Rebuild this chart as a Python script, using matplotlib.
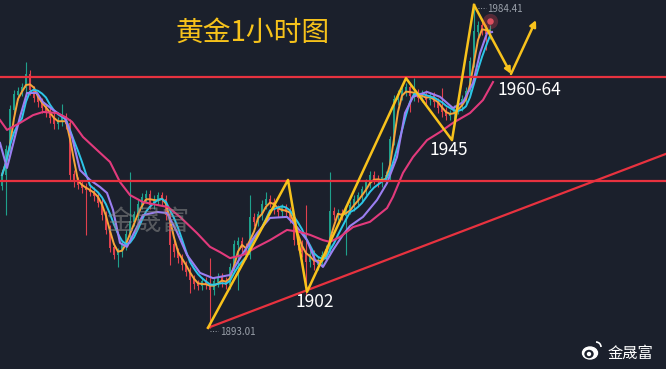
import numpy as np
import pandas as pd
import matplotlib
matplotlib.use("Agg")
import matplotlib.pyplot as plt
from matplotlib.patches import Ellipse, Arc

plt.rcParams['font.family'] = ['Noto Sans CJK SC', 'DejaVu Sans']

# hourly closes of gold
closes = [1936.4, 1943.5, 1954.9, 1959.1, 1960.0, 1961.1, 1964.8, 1960.5, 1958.3, 1957.1,
          1955.4, 1954.3, 1952.6, 1950.9, 1951.5, 1952.6, 1950.9, 1936.4, 1934.4, 1933.6,
          1932.7, 1932.1, 1931.6, 1930.4, 1928.5, 1925.0, 1920.8, 1915.7, 1913.7, 1914.5,
          1916.5, 1919.4, 1923.1, 1925.0, 1927.9, 1929.9, 1930.7, 1927.9, 1929.3, 1930.4,
          1929.3, 1925.0, 1916.5, 1914.5, 1912.8, 1910.8, 1908.9, 1906.6, 1905.4, 1904.9,
          1906.0, 1905.2, 1903.7, 1906.0, 1907.2, 1906.0, 1905.2, 1910.0, 1916.5, 1917.4,
          1915.7, 1913.7, 1924.2, 1923.1, 1925.0, 1927.9, 1929.3, 1928.5, 1926.5, 1925.9,
          1927.0, 1925.9, 1924.2, 1917.9, 1916.5, 1914.5, 1911.7, 1913.7, 1910.8, 1911.7,
          1913.4, 1915.1, 1925.9, 1925.0, 1925.3, 1924.8, 1926.5, 1927.6, 1929.3, 1930.4,
          1932.1, 1934.1, 1936.1, 1935.0, 1934.4, 1935.5, 1936.1, 1946.3, 1957.7, 1959.1,
          1960.0, 1961.1, 1958.8, 1959.4, 1958.3, 1959.1, 1957.7, 1958.8, 1957.1, 1955.4,
          1954.3, 1953.2, 1953.7, 1954.9, 1956.0, 1957.7, 1960.0, 1968.5, 1977.0, 1978.7,
          1977.6, 1976.4, 1977.6]

# long wicks (candle index, price)
spike_high_idx = [6, 15, 32, 52, 62, 66, 76, 82, 95, 103, 110, 118]
spike_high_val = [1968.5, 1956.6, 1937.3, 1912.8, 1930.7, 1931.5, 1927.9, 1937.3, 1940.1, 1963.9, 1961.1, 1984.41]
spike_low_idx = [1, 21, 29, 42, 47, 52, 59, 76, 86, 102, 121]
spike_low_val = [1925.0, 1919.4, 1910.3, 1910.8, 1902.9, 1893.01, 1903.7, 1902.3, 1913.7, 1954.3, 1971.9]

# slower moving averages
purple_t = [-0.5, 1.25, 4.5, 6.25, 8.75, 10.25, 12.75, 15.75, 17.5, 19.5, 22, 24.5, 26.25, 27.75,
            29.5, 31.25, 32.75, 35.25, 38.75, 41.25, 43.75, 46.25, 49.5, 52.75, 57, 60.25, 63.75,
            67, 71.25, 73.75, 76.25, 78.25, 80.25, 82.75, 85.25, 87, 90.25, 93.75, 96.25, 98.75,
            100.75, 102.75, 106.25, 109.5, 112.75, 115.25, 117.75, 119.5, 121.25, 122.5]
purple_v = [1945.5, 1938.4, 1952.9, 1959.7, 1959.7, 1957.1, 1954.9, 1952.6, 1947.2, 1937.8, 1935.0,
            1933.0, 1931.3, 1926.5, 1917.1, 1916.0, 1919.4, 1925.0, 1925.9, 1925.6, 1920.2, 1913.7,
            1908.6, 1907.1, 1908.0, 1914.2, 1919.9, 1924.2, 1924.5, 1921.6, 1917.9, 1912.3, 1910.3,
            1915.1, 1919.4, 1921.9, 1924.5, 1929.3, 1934.1, 1941.5, 1954.0, 1958.6, 1960.0, 1958.6,
            1955.4, 1957.1, 1962.5, 1971.0, 1976.7, 1977.0]
pink_t = [-0.5, 1.25, 4.5, 7.75, 10.25, 13.75, 15.75, 17.5, 20.25, 23.75, 27, 29.5, 32, 35.25,
          38.75, 41.5, 44.5, 48.75, 52, 54.5, 57, 60.25, 63.75, 67, 71.25, 74.5, 77, 80.25, 82,
          84.5, 87.75, 92, 96.25, 97.75, 100.25, 102.75, 106.25, 109.5, 112.75, 117, 120.25, 122.75]
pink_v = [1952.0, 1949.2, 1951.2, 1953.4, 1954.3, 1954.0, 1952.9, 1951.5, 1947.2, 1943.5, 1940.1,
          1934.4, 1930.7, 1928.7, 1927.9, 1927.3, 1924.5, 1919.9, 1916.0, 1914.5, 1912.8, 1913.7,
          1916.0, 1917.9, 1920.8, 1920.2, 1919.4, 1917.9, 1917.4, 1918.8, 1921.6, 1923.1, 1927.0,
          1930.2, 1937.0, 1941.5, 1946.3, 1948.6, 1951.2, 1954.0, 1957.7, 1962.8]

# drawn analysis
zig_t = [51.5, 71.5, 76.25, 101, 112.5, 118, 127.25, 133.5]
zig_v = [1893.0, 1935.0, 1903.2, 1963.9, 1946.3, 1984.7, 1965.1, 1980.4]
levels = [1964.2, 1934.7]
trend_t = [51.5, 166]
trend_v = [1893.0, 1942.4]

bg = '#1b202c'
up_c, dn_c = '#1fa08c', '#e0404e'
yel = '#f8c21c'

fig = plt.figure(figsize=(6.66, 3.69), dpi=100, facecolor=bg)
ax = fig.add_axes([0, 0, 1, 1])
ax.set_facecolor(bg)

df = pd.DataFrame({'close': closes})
df['open'] = df['close'].shift(1).fillna(df['close'].iloc[0] - 3)
df['high'] = df[['open', 'close']].max(axis=1) + 1.3
df['low'] = df[['open', 'close']].min(axis=1) - 1.3
for i, v in zip(spike_high_idx, spike_high_val):
    df.loc[i, 'high'] = v
for i, v in zip(spike_low_idx, spike_low_val):
    df.loc[i, 'low'] = v
t = np.arange(len(df))

for i, r in df.iterrows():
    c = up_c if r['close'] >= r['open'] else dn_c
    ax.vlines(i, r['low'], r['high'], color=c, lw=0.8, zorder=2)
    ax.bar(i, abs(r['close'] - r['open']) + 0.3, bottom=min(r['open'], r['close']),
           width=0.7, color=c, zorder=2)

ax.plot(t, df['close'].rolling(3, min_periods=1).mean(), color='#f7a43a', lw=1.4, zorder=3)
ax.plot(t, df['close'].rolling(6, min_periods=1).mean(), color='#2cc6e8', lw=1.4, zorder=3)
ax.plot(purple_t, purple_v, color='#9b7ff2', lw=1.5, zorder=3)
ax.plot(pink_t, pink_v, color='#e23a7c', lw=1.5, zorder=3)

for lv in levels:
    ax.axhline(lv, color='#e8323f', lw=1.6, zorder=4)
ax.plot(trend_t, trend_v, color='#e8323f', lw=1.6, zorder=4)

ax.plot(zig_t[:-2], zig_v[:-2], color=yel, lw=1.8, zorder=5)
for k in (-3, -2):
    ax.annotate('', xy=(zig_t[k + 1], zig_v[k + 1]), xytext=(zig_t[k], zig_v[k]),
                arrowprops=dict(arrowstyle='-|>', color=yel, lw=1.8, mutation_scale=9,
                                shrinkA=0, shrinkB=0), zorder=5)

# glowing last price dot
ax.scatter([122], [1980.1], s=120, color='#ff4a5a', alpha=0.25, zorder=6, lw=0)
ax.scatter([122], [1980.1], s=22, color='#ff5a6a', alpha=0.8, zorder=6, lw=0)

ax.set_xlim(-0.5, 166)
ax.set_ylim(1881.3, 1986.1)
ax.axis('off')

def px(x, y):
    return x / 666, 1 - y / 369

kw = dict(transform=ax.transAxes, zorder=7)
ax.text(*px(253, 33), '黄金1小时图', color='#f6c21b', fontsize=20, ha='center', va='center', **kw)
ax.text(*px(315, 302), '1902', color='white', fontsize=12.5, ha='center', va='center', **kw)
ax.text(*px(449, 150), '1945', color='white', fontsize=12.5, ha='center', va='center', **kw)
ax.text(*px(529, 90), '1960-64', color='white', fontsize=12.5, ha='center', va='center', **kw)
ax.text(*px(220, 332), '1893.01', color='#9aa0aa', fontsize=7, ha='left', va='center', **kw)
ax.text(*px(487, 9), '1984.41', color='#9aa0aa', fontsize=7, ha='left', va='center', **kw)
ax.plot([px(210, 331)[0], px(218, 331)[0]], [px(210, 331)[1]] * 2, color='#9aa0aa', lw=0.7, ls=':', **kw)
ax.plot([px(478, 8)[0], px(486, 8)[0]], [px(478, 8)[1]] * 2, color='#9aa0aa', lw=0.7, ls=':', **kw)

ax.text(*px(148, 222), '金晟富', color='#8a8a8a', alpha=0.55, fontsize=20, ha='center', va='center', **kw)

# weibo mark
ax.add_patch(Ellipse(px(590, 353), 15 / 666, 12 / 369, color='white', transform=ax.transAxes, zorder=7))
ax.add_patch(Ellipse(px(589, 354), 8 / 666, 7 / 369, color=bg, transform=ax.transAxes, zorder=8))
ax.add_patch(Ellipse(px(589, 354), 3 / 666, 3 / 369, color='white', transform=ax.transAxes, zorder=9))
ax.add_patch(Arc(px(596, 347), 10 / 666, 10 / 369, theta1=0, theta2=90, color='white', lw=1.2,
                 transform=ax.transAxes, zorder=7))
ax.text(*px(630, 353), '金晟富', color='white', fontsize=11, ha='center', va='center', **kw)

fig.savefig('out.png', dpi=100, facecolor=bg)
